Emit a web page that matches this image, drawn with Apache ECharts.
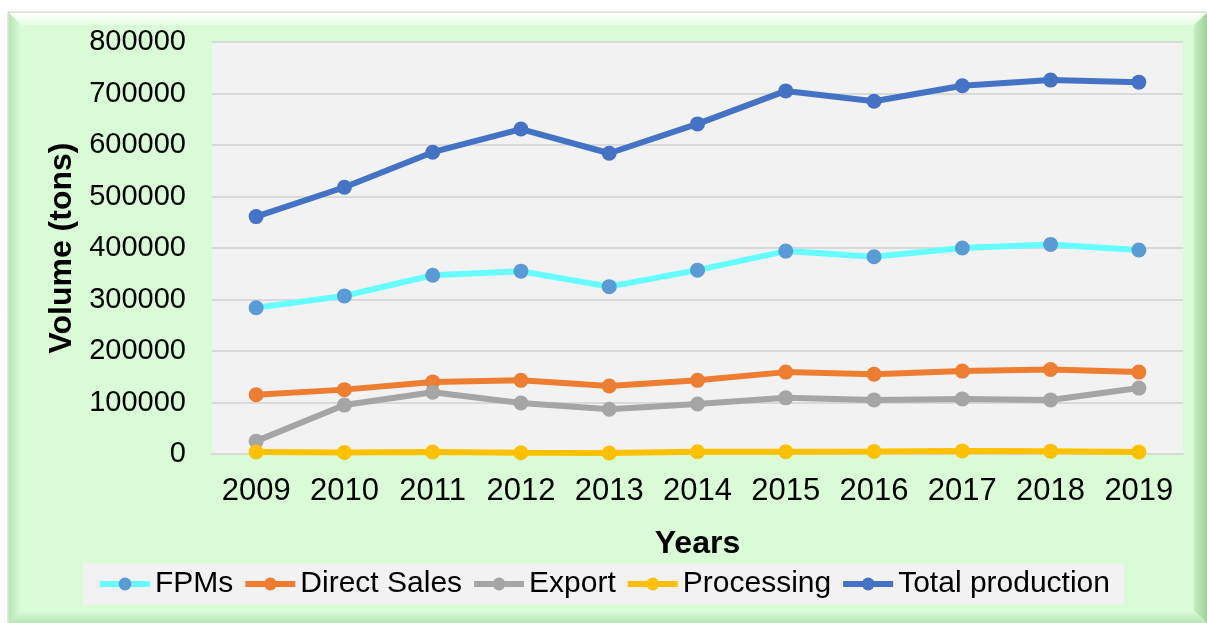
<!DOCTYPE html>
<html>
<head>
<meta charset="utf-8">
<script src="https://cdn.jsdelivr.net/npm/echarts@6/dist/echarts.min.js"></script>
<style>
  html, body { margin: 0; padding: 0; background: #fff; }
  #chart { width: 1207px; height: 623px; }
</style>
</head>
<body>
<div id="chart"></div>
<script>
// data
const years = ['2009', '2010', '2011', '2012', '2013', '2014', '2015', '2016', '2017', '2018', '2019']
const fpms = [284000, 307000, 347000, 355000, 325000, 357000, 394000, 383000, 400000, 407000, 396000]
const directSales = [115000, 125000, 140000, 143000, 132000, 143000, 159000, 155000, 161000, 164000, 159000]
const exportVol = [25000, 95000, 120000, 99000, 87000, 97000, 109000, 105000, 107000, 105000, 128000]
const processing = [4000, 3000, 4000, 2500, 2000, 4500, 4500, 5000, 6000, 5500, 4000]
const totalProduction = [461000, 518000, 586000, 631000, 584000, 641000, 705000, 685000, 715000, 726000, 722000]

const font = '"Liberation Sans", Arial, sans-serif'

const myChart = echarts.init(document.getElementById('chart'))

const mkLine = (name, data, lineColor, dotColor) => ({
  name: name,
  type: 'line',
  data: data,
  symbol: 'circle',
  symbolSize: 15,
  smooth: false,
  lineStyle: { color: lineColor, width: 6 },
  itemStyle: { color: dotColor || lineColor },
  emphasis: { disabled: true },
})

const options = {
  animation: false,
  textStyle: { fontFamily: font },
  // green bevelled panel behind the chart
  graphic: [
    {
      type: 'rect',
      z: -10,
      shape: { x: 8, y: 12, width: 1199, height: 611 },
      style: { fill: '#D9FCD6', stroke: '#CFCFCF', lineWidth: 1 },
    },
    {
      type: 'polygon',
      z: -9,
      shape: { points: [[9, 13], [1206, 13], [1194, 25], [21, 25]] },
      style: {
        fill: {
          type: 'linear', x: 0, y: 0, x2: 0, y2: 1,
          colorStops: [{ offset: 0, color: '#FFFFFF' }, { offset: 1, color: '#E6FDE4' }],
        },
      },
    },
    {
      type: 'polygon',
      z: -9,
      shape: { points: [[9, 13], [21, 25], [21, 611], [9, 623]] },
      style: {
        fill: {
          type: 'linear', x: 0, y: 0, x2: 1, y2: 0,
          colorStops: [{ offset: 0, color: '#B9E6B5' }, { offset: 1, color: '#D9FCD6' }],
        },
      },
    },
    {
      type: 'polygon',
      z: -9,
      shape: { points: [[1207, 13], [1194, 25], [1194, 611], [1207, 623]] },
      style: {
        fill: {
          type: 'linear', x: 0, y: 0, x2: 1, y2: 0,
          colorStops: [{ offset: 0, color: '#C6EFC2' }, { offset: 1, color: '#9ECF9A' }],
        },
      },
    },
    {
      type: 'polygon',
      z: -9,
      shape: { points: [[9, 623], [21, 611], [1194, 611], [1207, 623]] },
      style: {
        fill: {
          type: 'linear', x: 0, y: 0, x2: 0, y2: 1,
          colorStops: [{ offset: 0, color: '#D9FCD6' }, { offset: 1, color: '#B8E4B4' }],
        },
      },
    },
  ],
  grid: {
    left: 212,
    right: 24,
    top: 42,
    bottom: 169,
    show: true,
    backgroundColor: '#F2F2F2',
    borderWidth: 0,
  },
  legend: {
    left: 'center',
    top: 563,
    backgroundColor: '#F2F2F2',
    padding: [6, 14, 6, 14],
    itemWidth: 50,
    itemHeight: 16,
    itemGap: 9,
    lineStyle: { width: 6 },
    textStyle: { fontSize: 30, color: '#000', fontFamily: font },
    data: ['FPMs', 'Direct Sales', 'Export', 'Processing', 'Total production'],
  },
  xAxis: {
    type: 'category',
    data: years,
    boundaryGap: true,
    name: 'Years',
    nameLocation: 'middle',
    nameGap: 74,
    nameTextStyle: { fontSize: 32, fontWeight: 'bold', color: '#000', fontFamily: font },
    axisLine: { lineStyle: { color: '#D9D9D9', width: 2 } },
    axisTick: { show: false },
    axisLabel: { interval: 0, fontSize: 31, color: '#000', margin: 22, fontFamily: font },
  },
  yAxis: {
    type: 'value',
    min: 0,
    max: 800000,
    interval: 100000,
    name: 'Volume (tons)',
    nameLocation: 'middle',
    nameRotate: 90,
    nameGap: 134,
    nameTextStyle: { fontSize: 32, fontWeight: 'bold', color: '#000', fontFamily: font },
    axisLine: { show: false },
    axisTick: { show: false },
    axisLabel: {
      fontSize: 29,
      color: '#000',
      margin: 26,
      fontFamily: font,
      formatter: (v) => String(v),
    },
    splitLine: { lineStyle: { color: '#D9D9D9', width: 2 } },
  },
  series: [
    mkLine('FPMs', fpms, '#66FFFF', '#5B9BD5'),
    mkLine('Direct Sales', directSales, '#ED7D31'),
    mkLine('Export', exportVol, '#A5A5A5'),
    mkLine('Processing', processing, '#FFC000'),
    mkLine('Total production', totalProduction, '#4472C4'),
  ],
}
myChart.setOption(options)
</script>
</body>
</html>
